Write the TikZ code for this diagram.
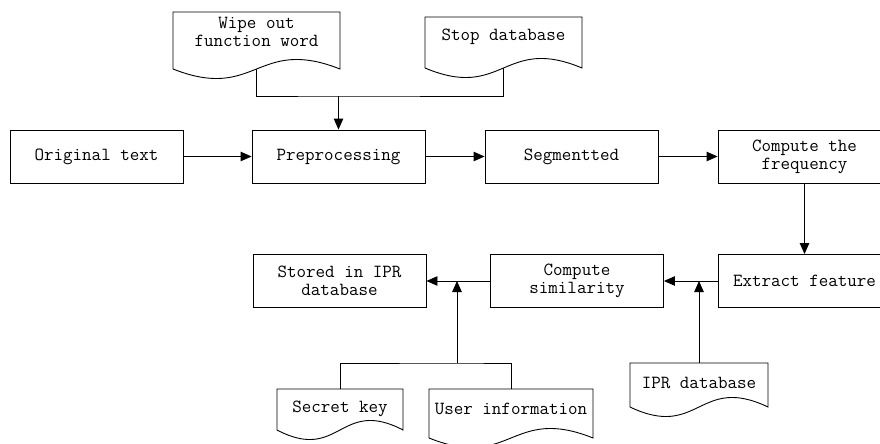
\documentclass[tikz,border=0pt]{standalone}
\usetikzlibrary{arrows.meta,backgrounds}

\tikzset{
    flowbox/.style={draw, line width=0.9pt, minimum width=173pt, minimum height=53pt,
        align=center, font=\ttfamily\fontsize{18.5}{18}\selectfont},
    docline/.style={draw, line width=0.9pt, fill=white},
    doctext/.style={align=center, inner sep=1pt, font=\ttfamily\fontsize{18.5}{18}\selectfont},
    link/.style={line width=0.9pt}
}

% document shape: name, centre x, top y, width, side height, text
\newcommand{\docnode}[6]{%
    \draw[docline] (#2-#4/2,#3) -- (#2+#4/2,#3) -- (#2+#4/2,#3+#5)
        .. controls +(-#4/2,-33) and +(#4/2,33) .. (#2-#4/2,#3+#5) -- cycle;
    \node[doctext] (#1) at (#2,#3+20) {#6};}

\begin{document}
\begin{tikzpicture}[x=1pt, y=-1pt, >={Triangle[length=11pt,width=9.5pt]}]
    \useasboundingbox (0,0) rectangle (880,444);

    % first row
    \node[flowbox] (orig) at (96.5,156.5) {Original text};
    \node[flowbox] (prep) at (338.5,156.5) {Preprocessing};
    \node[flowbox] (seg) at (571.5,156.5) {Segmentted};
    \node[flowbox] (freq) at (804.5,156.5) {Compute the\\frequency};

    % second row
    \node[flowbox] (extract) at (804.5,281) {Extract feature};
    \node[flowbox] (sim) at (577,281) {Compute\\similarity};
    \node[flowbox] (stored) at (339.5,281) {Stored in IPR\\database};

    % documents
    \docnode{wipe}{256.5}{12}{167}{57}{Wipe out\\function word}
    \docnode{stop}{503.5}{17}{157}{51}{Stop database}
    \docnode{ipr}{699}{363}{138}{44}{IPR database}
    \docnode{secret}{340}{389}{126}{41}{Secret key}
    \docnode{user}{511}{389}{164}{49}{User information}

    \coordinate (topjoin) at (338.5,96);
    \coordinate (botjoin) at (457,363);

    % connectors
    \draw[link,->] (orig) -- (prep);
    \draw[link,->] (prep) -- (seg);
    \draw[link,->] (seg) -- (freq);
    \draw[link,->] (freq) -- (extract);
    \draw[link,->] (extract) -- (sim);
    \draw[link,->] (sim) -- (stored);
    \draw[link,->] (topjoin) -- (prep);
    \draw[link,->] (botjoin) -- (botjoin |- stored);
    \draw[link,->] (ipr |- 0,363) -- (ipr |- extract);
    \begin{pgfonlayer}{background}
        \draw[link] (wipe) |- (topjoin) -| (stop);
        \draw[link] (secret) |- (botjoin) -| (user);
        \draw[link] (ipr) -- (ipr |- 0,363);
    \end{pgfonlayer}
\end{tikzpicture}
\end{document}
